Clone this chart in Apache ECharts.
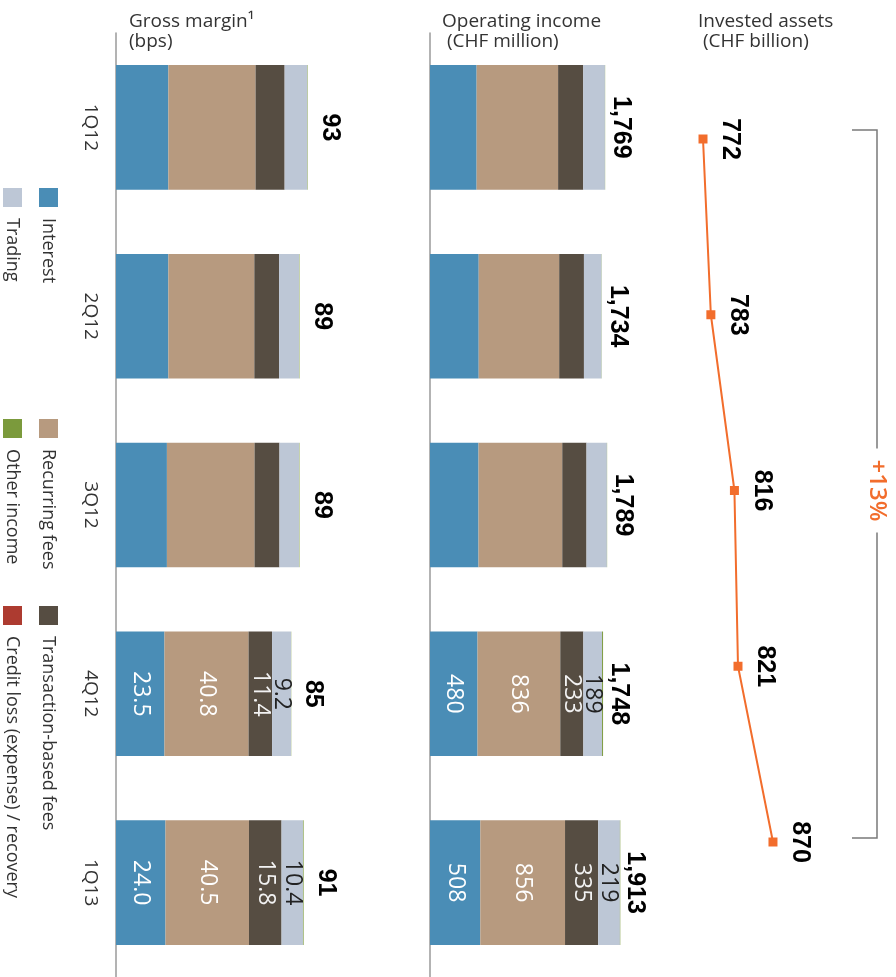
<!DOCTYPE html>
<html>
<head>
<meta charset="utf-8">
<title>Wealth Management – quarterly overview</title>
<script src="https://cdn.jsdelivr.net/npm/echarts@6/dist/echarts.min.js"></script>
<style>
  html, body { margin: 0; padding: 0; background: #ffffff; }
  #chart { width: 896px; height: 977px; }
</style>
</head>
<body>
<div id="chart"></div>
<script>
// Quarters, top to bottom
const quarters = ['1Q12', '2Q12', '3Q12', '4Q12', '1Q13'];

// Gross margin (bps) by income type
const gmInterest    = [25.4, 25.4, 24.7, 23.5, 24.0];
const gmRecurring   = [42.3, 41.7, 42.5, 40.8, 40.5];
const gmTransaction = [14.1, 12.0, 12.1, 11.4, 15.8];
const gmTrading     = [11.0, 9.7, 9.5, 9.2, 10.4];
const gmOther       = [0.2, 0.2, 0.2, 0.1, 0.3];
const gmCredit      = [0, 0, 0, 0, 0];
const gmTotal       = [93, 89, 89, 85, 91];

// Operating income (CHF million) by income type
const oiInterest    = [471, 492, 490, 480, 508];
const oiRecurring   = [823, 813, 846, 836, 856];
const oiTransaction = [254, 250, 245, 233, 335];
const oiTrading     = [219, 177, 206, 189, 219];
const oiOther       = [2, 2, 2, 10, 4];
const oiCredit      = [0, 0, 0, 0, -9];
const oiTotal       = [1769, 1734, 1789, 1748, 1913];

// Invested assets (CHF billion)
const iaValues = [772, 783, 816, 821, 870];

// Quarters whose segments carry value labels
const labelledQuarters = ['4Q12', '1Q13'];

const colors = {
  interest: '#4a8db6',
  recurring: '#b79a7f',
  transaction: '#564d42',
  trading: '#bdc7d6',
  other: '#7b9a3c',
  credit: '#ad3b30',
  line: '#f26d2c',
  axis: '#9a9a9a',
  text: '#333333'
};

const legendItems = [
  { name: 'Interest', color: colors.interest, col: 0, row: 0 },
  { name: 'Recurring fees', color: colors.recurring, col: 0, row: 1 },
  { name: 'Transaction-based fees', color: colors.transaction, col: 0, row: 2 },
  { name: 'Trading', color: colors.trading, col: 1, row: 0 },
  { name: 'Other income', color: colors.other, col: 1, row: 1 },
  { name: 'Credit loss (expense) / recovery', color: colors.credit, col: 1, row: 2 }
];

const CLOCKWISE = -90;
const fmtBps = v => v.toFixed(1);
const fmtChf = v => Math.round(v).toLocaleString('en-US');

function stackSeries(name, values, stack, axisIdx, color, labelColor, fmt) {
  return {
    name: name,
    type: 'bar',
    stack: stack,
    xAxisIndex: axisIdx,
    yAxisIndex: axisIdx,
    barCategoryGap: '34%',
    itemStyle: { color: color },
    data: values.map((v, i) => ({
      value: v,
      label: { show: labelColor !== null && labelledQuarters.includes(quarters[i]) }
    })),
    label: {
      position: 'inside',
      rotate: CLOCKWISE,
      align: 'center',
      verticalAlign: 'middle',
      color: labelColor || '#fff',
      fontFamily: 'Open Sans',
      fontSize: 23,
      fontWeight: 'normal',
      formatter: p => fmt(p.value)
    }
  };
}

// Invisible points at each bar total that carry the bold total label
function totalSeries(values, axisIdx, distance) {
  return {
    type: 'scatter',
    xAxisIndex: axisIdx,
    yAxisIndex: axisIdx,
    symbolSize: 1,
    itemStyle: { color: 'rgba(0,0,0,0)', opacity: 1 },
    silent: true,
    data: values.map((v, i) => [v, quarters[i]]),
    label: {
      show: true,
      position: 'right',
      distance: distance,
      rotate: CLOCKWISE,
      align: 'center',
      verticalAlign: 'bottom',
      color: '#000',
      opacity: 1,
      fontFamily: 'Liberation Sans',
      fontWeight: 'bold',
      fontSize: 25,
      formatter: p => fmtChf(p.value[0])
    }
  };
}

const headerStyle = {
  fontFamily: 'Open Sans',
  fontSize: 19,
  fontWeight: 'normal',
  color: colors.text,
  lineHeight: 20
};

const categoryAxis = (gridIndex, showLabels) => ({
  type: 'category',
  gridIndex: gridIndex,
  data: quarters,
  inverse: true,
  axisLine: { show: true, lineStyle: { color: colors.axis, width: 1.5 } },
  axisTick: { show: false },
  axisLabel: {
    show: showLabels,
    rotate: CLOCKWISE,
    margin: 16,
    color: colors.text,
    fontFamily: 'Open Sans',
    fontSize: 19
  }
});

const chart = echarts.init(document.getElementById('chart'), null, { renderer: 'canvas' });

chart.setOption({
  animation: false,
  textStyle: { fontFamily: 'Open Sans' },
  title: [
    { text: 'Gross margin¹\n(bps)', left: 129, top: 12, padding: 0, textStyle: headerStyle },
    { text: 'Operating income\n (CHF million)', left: 442, top: 12, padding: 0, textStyle: headerStyle },
    { text: 'Invested assets\n (CHF billion)', left: 698, top: 12, padding: 0, textStyle: headerStyle }
  ],
  grid: [
    { left: 116, top: 33, width: 268, height: 947 },
    { left: 430, top: 33, width: 198, height: 947 },
    { left: 651.6, top: 139, width: 142.8, height: 703 }
  ],
  xAxis: [
    { type: 'value', gridIndex: 0, min: 0, max: 130, show: false },
    { type: 'value', gridIndex: 1, min: 0, max: 2000, show: false },
    { type: 'value', gridIndex: 2, min: 700, max: 900, show: false }
  ],
  yAxis: [
    categoryAxis(0, true),
    categoryAxis(1, false),
    Object.assign(categoryAxis(2, false), { boundaryGap: false, axisLine: { show: false } })
  ],
  series: [
    stackSeries('Interest', gmInterest, 'gm', 0, colors.interest, '#ffffff', fmtBps),
    stackSeries('Recurring fees', gmRecurring, 'gm', 0, colors.recurring, '#ffffff', fmtBps),
    stackSeries('Transaction-based fees', gmTransaction, 'gm', 0, colors.transaction, '#f2f2f2', fmtBps),
    stackSeries('Trading', gmTrading, 'gm', 0, colors.trading, '#222222', fmtBps),
    stackSeries('Other income', gmOther, 'gm', 0, colors.other, null, fmtBps),
    stackSeries('Credit loss (expense) / recovery', gmCredit, 'gm', 0, colors.credit, null, fmtBps),
    totalSeries(gmTotal, 0, 9),

    stackSeries('Interest', oiInterest, 'oi', 1, colors.interest, '#ffffff', fmtChf),
    stackSeries('Recurring fees', oiRecurring, 'oi', 1, colors.recurring, '#ffffff', fmtChf),
    stackSeries('Transaction-based fees', oiTransaction, 'oi', 1, colors.transaction, '#f2f2f2', fmtChf),
    stackSeries('Trading', oiTrading, 'oi', 1, colors.trading, '#222222', fmtChf),
    stackSeries('Other income', oiOther, 'oi', 1, colors.other, null, fmtChf),
    stackSeries('Credit loss (expense) / recovery', oiCredit, 'oi', 1, colors.credit, null, fmtChf),
    totalSeries(oiTotal, 1, 3),

    {
      name: 'Invested assets',
      type: 'line',
      xAxisIndex: 2,
      yAxisIndex: 2,
      data: iaValues,
      symbol: 'rect',
      symbolSize: 9,
      itemStyle: { color: colors.line },
      lineStyle: { color: colors.line, width: 2 },
      label: {
        show: true,
        position: 'right',
        distance: 10,
        rotate: CLOCKWISE,
        align: 'center',
        verticalAlign: 'bottom',
        color: '#000',
        fontFamily: 'Liberation Sans',
        fontWeight: 'bold',
        fontSize: 25
      }
    }
  ]
});

// Legend: swatches with text running downwards, two columns at the left edge
const legendColX = [39, 3];
const legendRowY = [188, 419, 606];
const swatch = 19;
const overlay = [];
legendItems.forEach(item => {
  const x = legendColX[item.col];
  const y = legendRowY[item.row];
  overlay.push({
    type: 'rect',
    shape: { x: x, y: y, width: swatch, height: swatch },
    style: { fill: item.color }
  });
  overlay.push({
    type: 'text',
    x: x + swatch / 2,
    y: y + swatch + 11,
    rotation: -Math.PI / 2,
    style: {
      text: item.name,
      fill: colors.text,
      fontFamily: 'Open Sans',
      fontSize: 18,
      align: 'left',
      verticalAlign: 'middle'
    }
  });
});

// Growth bracket spanning first to last invested-assets point
const lastIdx = iaValues.length - 1;
const pFirst = chart.convertToPixel({ gridIndex: 2 }, [iaValues[0], 0]);
const pMid = chart.convertToPixel({ gridIndex: 2 }, [iaValues[2], 2]);
const pLast = chart.convertToPixel({ gridIndex: 2 }, [iaValues[lastIdx], lastIdx]);
const growth = Math.round((iaValues[lastIdx] / iaValues[0] - 1) * 100);
const bracketX = 877, tickLeft = 852, textGap = 42;
const bracketTop = pFirst[1] - 9, bracketBottom = pLast[1] - 4;
const bracketStyle = { stroke: '#7a7a7a', lineWidth: 1.5, fill: null };

overlay.push(
  { type: 'polyline', shape: { points: [[tickLeft, bracketTop], [bracketX, bracketTop], [bracketX, pMid[1] - textGap]] }, style: bracketStyle },
  { type: 'polyline', shape: { points: [[bracketX, pMid[1] + textGap], [bracketX, bracketBottom], [tickLeft, bracketBottom]] }, style: bracketStyle },
  {
    type: 'text',
    x: bracketX,
    y: pMid[1],
    rotation: -Math.PI / 2,
    style: {
      text: (growth >= 0 ? '+' : '') + growth + '%',
      fill: colors.line,
      fontFamily: 'Open Sans',
      fontSize: 24,
      fontWeight: 600,
      align: 'center',
      verticalAlign: 'middle'
    }
  }
);

chart.setOption({ graphic: overlay });
</script>
</body>
</html>
